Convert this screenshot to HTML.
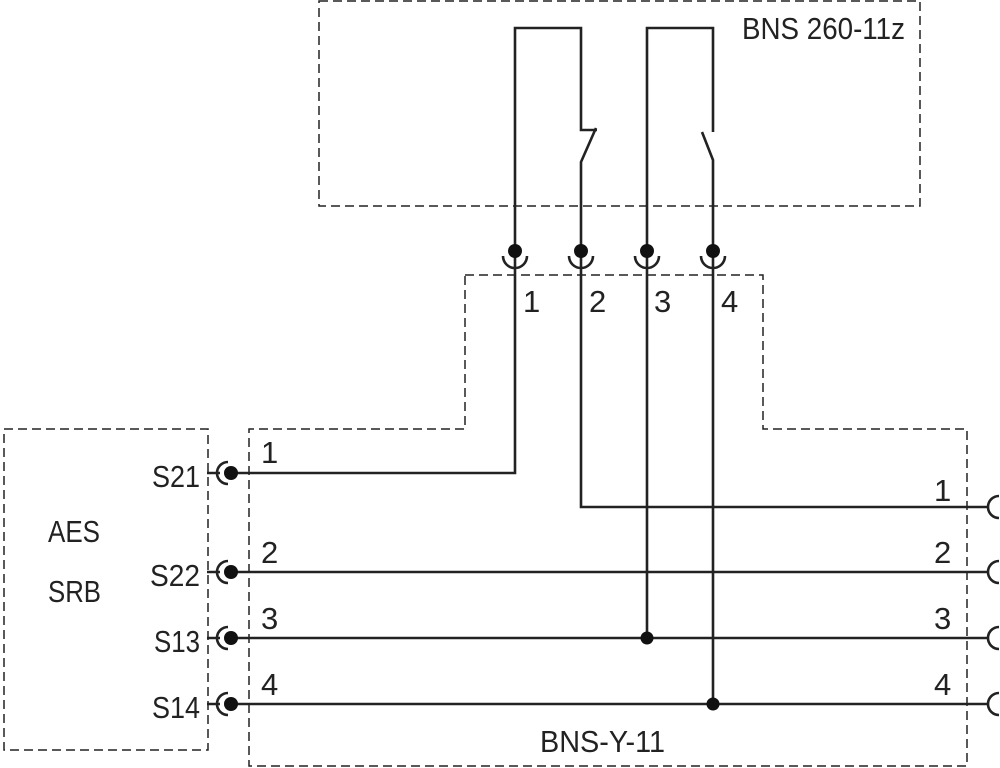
<!DOCTYPE html>
<html><head><meta charset="utf-8"><style>
html,body{margin:0;padding:0;background:#fff;}
svg{display:block;}
text{font-family:"Liberation Sans Narrow","Liberation Sans",sans-serif;font-size:31px;fill:#222;}
</style></head><body>
<svg width="1000" height="768" viewBox="0 0 1000 768" xmlns="http://www.w3.org/2000/svg">
<g fill="none" stroke="#222" stroke-width="1.5" stroke-dasharray="9,5">
<rect x="319" y="1" width="601" height="205"/>
<path d="M465 275 H763 V429 H967 V766 H249 V429 H465 Z"/>
<rect x="4" y="429" width="204" height="321"/>
</g>
<g fill="none" stroke="#222" stroke-width="2.6">
<path d="M515 251 V28 H581 V130 H597"/>
<path d="M596 128 L581 162 V251"/>
<path d="M647 251 V28 H713 V132"/>
<path d="M702 132 L713 160 V251"/>
<path d="M515 251 V473 H231"/>
<path d="M581 251 V507 H988"/>
<path d="M647 251 V638"/>
<path d="M713 251 V704"/>
<path d="M231 572 H988 M231 638 H988 M231 704 H988"/>
<path d="M207 473 H220 M207 572 H220 M207 638 H220 M207 704 H220"/>
<path d="M503 256 A12 12 0 0 0 527 256 M569 256 A12 12 0 0 0 593 256 M635 256 A12 12 0 0 0 659 256 M701 256 A12 12 0 0 0 725 256"/>
<path d="M228 462 A11 11 0 0 0 228 484 M228 561 A11 11 0 0 0 228 583 M228 627 A11 11 0 0 0 228 649 M228 693 A11 11 0 0 0 228 715"/>
<path d="M999 496 A11 11 0 0 0 999 518 M999 561 A11 11 0 0 0 999 583 M999 627 A11 11 0 0 0 999 649 M999 693 A11 11 0 0 0 999 715"/>
</g>
<g fill="#111">
<circle cx="515" cy="251" r="7"/><circle cx="581" cy="251" r="7"/><circle cx="647" cy="251" r="7"/><circle cx="713" cy="251" r="7"/>
<circle cx="231" cy="473" r="7"/><circle cx="231" cy="572" r="7"/><circle cx="231" cy="638" r="7"/><circle cx="231" cy="704" r="7"/>
<circle cx="647" cy="638" r="6.5"/><circle cx="713" cy="704" r="6.5"/>
</g>
<text x="742" y="39" textLength="163" lengthAdjust="spacingAndGlyphs">BNS 260-11z</text>
<text x="523" y="312">1</text><text x="589" y="312">2</text><text x="654" y="312">3</text><text x="721" y="312">4</text>
<text x="152" y="487" textLength="48" lengthAdjust="spacingAndGlyphs">S21</text>
<text x="150" y="586" textLength="50" lengthAdjust="spacingAndGlyphs">S22</text>
<text x="154" y="652" textLength="46" lengthAdjust="spacingAndGlyphs">S13</text>
<text x="152" y="718" textLength="48" lengthAdjust="spacingAndGlyphs">S14</text>
<text x="261" y="463">1</text><text x="261" y="563">2</text><text x="261" y="629">3</text><text x="261" y="695">4</text>
<text x="934" y="501">1</text><text x="934" y="563">2</text><text x="934" y="629">3</text><text x="934" y="695">4</text>
<text x="48" y="542" textLength="52" lengthAdjust="spacingAndGlyphs">AES</text>
<text x="48" y="602" textLength="53" lengthAdjust="spacingAndGlyphs">SRB</text>
<text x="540" y="752" textLength="125" lengthAdjust="spacingAndGlyphs">BNS-Y-11</text>
</svg>
</body></html>
